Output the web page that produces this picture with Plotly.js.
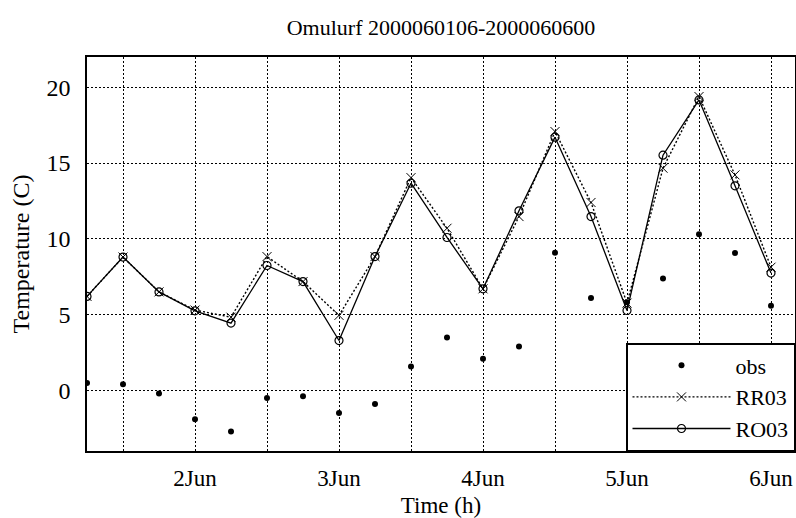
<!DOCTYPE html>
<html>
<head>
<meta charset="utf-8">
<script src="https://cdn.plot.ly/plotly-3.0.1.min.js"></script>
<style>html,body{margin:0;padding:0;background:#fff;}#chart{width:796px;height:518px;}</style>
</head>
<body>
<div id="chart"></div>
<script>
const times = [
  "2000-06-01 06:00","2000-06-01 12:00","2000-06-01 18:00","2000-06-02 00:00",
  "2000-06-02 06:00","2000-06-02 12:00","2000-06-02 18:00","2000-06-03 00:00",
  "2000-06-03 06:00","2000-06-03 12:00","2000-06-03 18:00","2000-06-04 00:00",
  "2000-06-04 06:00","2000-06-04 12:00","2000-06-04 18:00","2000-06-05 00:00",
  "2000-06-05 06:00","2000-06-05 12:00","2000-06-05 18:00","2000-06-06 00:00"
];
const obs  = [0.48, 0.41, -0.2, -1.9, -2.71, -0.51, -0.38, -1.5, -0.9, 1.58, 3.49, 2.08, 2.9, 9.08, 6.09, 5.82, 7.38, 10.31, 9.06, 5.58];
const rr03 = [6.2, 8.8, 6.5, 5.3, 4.83, 8.83, 7.18, 4.95, 8.83, 14.04, 10.7, 6.7, 11.47, 17.08, 12.4, 5.76, 14.66, 19.39, 14.22, 8.13];
const ro03 = [6.2, 8.8, 6.5, 5.25, 4.44, 8.24, 7.18, 3.29, 8.83, 13.67, 10.09, 6.7, 11.85, 16.71, 11.47, 5.27, 15.52, 19.17, 13.5, 7.74];
const tickVals = ["2000-06-02 00:00","2000-06-03 00:00","2000-06-04 00:00","2000-06-05 00:00","2000-06-06 00:00"];
const tickText = ["2Jun","3Jun","4Jun","5Jun","6Jun"];
const yTicks = [0, 5, 10, 15, 20];
const xRange = ["2000-06-01 06:00", "2000-06-06 04:00"];
const yRange = [-4, 22];

const F = "'Liberation Serif', 'Times New Roman', serif";
const traces = [
  {x: times, y: obs, name: "obs", mode: "markers", type: "scatter",
   marker: {symbol: "circle", size: 6, color: "#000"}},
  {x: times, y: rr03, name: "RR03", mode: "lines+markers", type: "scatter",
   line: {color: "#000", width: 1.4, dash: "2px,2px"},
   marker: {symbol: "x-thin-open", size: 9, color: "#000", line: {color: "#000", width: 1}}},
  {x: times, y: ro03, name: "RO03", mode: "lines+markers", type: "scatter",
   line: {color: "#000", width: 1.3},
   marker: {symbol: "circle-open", size: 8, color: "#000", line: {color: "#000", width: 1.2}}}
];
const layout = {
  width: 796, height: 518,
  margin: {l: 87, r: 1, t: 57, b: 67},
  paper_bgcolor: "#fff", plot_bgcolor: "#fff",
  font: {family: F, color: "#000", size: 22},
  title: {text: "Omulurf 2000060106-2000060600", font: {family: F, size: 22, color: "#000"},
          x: 0.5, xref: "paper", y: 0.948, yref: "container", yanchor: "middle"},
  showlegend: true,
  legend: {x: 1, xanchor: "right", y: 0, yanchor: "bottom", bgcolor: "#fff",
           bordercolor: "#000", borderwidth: 1.5, font: {family: F, size: 22, color: "#000"},
           itemwidth: 98, tracegroupgap: 0},
  xaxis: {type: "date", range: xRange, tickmode: "array", tickvals: tickVals, ticktext: tickText,
          showgrid: true, gridcolor: "#000", griddash: "2px,2px", gridwidth: 1,
          minor: {dtick: 43200000, tick0: "2000-06-01 00:00", showgrid: true, gridcolor: "#000", griddash: "2px,2px", gridwidth: 1},
          showline: true, mirror: true, linecolor: "#000", linewidth: 1.8, zeroline: false,
          ticks: "", ticklabelstandoff: 6, tickfont: {family: F, size: 23, color: "#000"},
          title: {text: "Time (h)", font: {family: F, size: 23, color: "#000"}, standoff: 8}},
  yaxis: {range: yRange, tickmode: "array", tickvals: yTicks,
          showgrid: true, gridcolor: "#000", griddash: "2px,2px", gridwidth: 1,
          showline: true, mirror: true, linecolor: "#000", linewidth: 1.8, zeroline: false,
          ticks: "", ticklabelstandoff: 10, tickfont: {family: F, size: 24, color: "#000"},
          title: {text: "Temperature (C)", font: {family: F, size: 24, color: "#000"}, standoff: 10}}
};
Plotly.newPlot("chart", traces, layout, {displayModeBar: false, staticPlot: true});
</script>
</body>
</html>
